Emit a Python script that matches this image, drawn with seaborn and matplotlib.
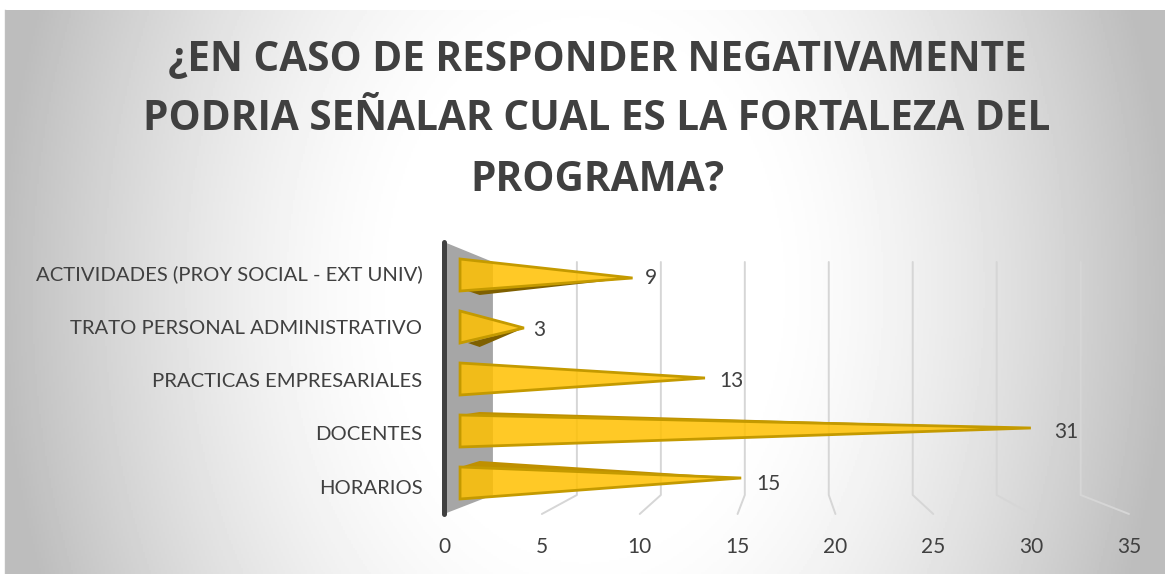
import numpy as np
import seaborn as sns
import matplotlib.pyplot as plt
from matplotlib.patches import Polygon

categories = ['ACTIVIDADES (PROY SOCIAL - EXT UNIV)', 'TRATO PERSONAL ADMINISTRATIVO',
              'PRACTICAS EMPRESARIALES', 'DOCENTES', 'HORARIOS']
values = [9, 3, 13, 31, 15]
x_ticks = [0, 5, 10, 15, 20, 25, 30, 35]
title = '¿EN CASO DE RESPONDER NEGATIVAMENTE\nPODRIA SEÑALAR CUAL ES LA FORTALEZA DEL\nPROGRAMA?'

W, H = 1170, 574
TEXT = '#404040'


def add_background(fig):
    # grey radial fill behind the whole chart, white margin outside it
    bg = fig.add_axes([5 / W, 0, 1160 / W, 564 / H], zorder=-5)
    xx, yy = np.meshgrid(np.linspace(5, 1165, 580), np.linspace(10, 574, 282))
    r = np.sqrt(((xx - 585) / 585) ** 2 + ((yy - 290) / 800) ** 2)
    shade = 1 - 0.26 * np.clip((r - 0.3) / 0.7, 0, 1) ** 1.5
    bg.imshow(shade, cmap='gray', vmin=0, vmax=1, aspect='auto')
    bg.set_xticks([])
    bg.set_yticks([])
    sns.despine(ax=bg, right=True, bottom=True)
    for side in ['top', 'left']:
        bg.spines[side].set_color('#bfbfbf')
        bg.spines[side].set_linewidth(1.0)


def draw_walls(ax):
    ax.add_patch(Polygon([(0, -0.72), (2.5, -0.32), (2.5, 4.34), (0, 4.72)],
                         facecolor='#a6a6a6', edgecolor='none', zorder=1))
    for t in x_ticks[1:]:
        back = 2.5 + 0.858 * t
        ax.plot([back, back, t], [-0.32, 4.34, 4.72], color='#d6d6d6', lw=1.4, zorder=1, clip_on=False)
    ax.plot([0, 0], [-0.72, 4.72], color=TEXT, lw=3.6, solid_capstyle='round', zorder=5, clip_on=False)


def draw_cones(ax, bars):
    # barplot sets the scales, each bar is then turned into a pointed 3d bar
    for i, bar in enumerate(bars):
        v = bar.get_width()
        bar.remove()
        tip = 1.31 + 0.925 * v
        mid = -0.06 + 1.04 * i
        tip_y = float(i)
        left = 0.82
        if i in (0, 1):
            ax.add_patch(Polygon([(left + 0.4, mid + 0.32), (left + 1.0, mid + 0.40), (tip, tip_y)],
                                 facecolor='#7f6000', edgecolor='none', zorder=3))
        if i in (3, 4):
            ax.add_patch(Polygon([(left, mid - 0.32), (left + 1.0, mid - 0.44 + 0.06 * (4 - i)), (tip, tip_y)],
                                 facecolor='#bf9000', edgecolor='none', zorder=3))
        ax.add_patch(Polygon([(left, mid - 0.32), (left, mid + 0.32), (tip, tip_y)],
                             facecolor='#ffc000', alpha=0.85, edgecolor='none', zorder=4))
        ax.add_patch(Polygon([(left, mid - 0.32), (left, mid + 0.32), (tip, tip_y)],
                             facecolor='none', edgecolor='#c49a00', lw=2.0, joinstyle='miter', zorder=4))
        ax.text(tip + (8 + 0.5 * v) / 19.57, 0.01 + 1.025 * i, f'{v:.0f}', ha='left', va='center',
                fontsize=15, color=TEXT, zorder=6)


fig = plt.figure(figsize=(W / 100, H / 100), dpi=100, facecolor='white')
sns.set_style('white')
plt.rcParams['font.family'] = ['Lato', 'DejaVu Sans']
add_background(fig)

ax = fig.add_axes([444 / W, (H - 514) / H, 685 / W, 272 / H], facecolor='none')
sns.barplot(x=values, y=categories, orient='h', ax=ax, color='#ffc000')
bars = list(ax.patches)
ax.set_xlim(0, 35)
ax.set_ylim(4.72, -0.72)
draw_walls(ax)
draw_cones(ax, bars)

sns.despine(ax=ax, left=True, bottom=True)
ax.set_xticks(x_ticks)
ax.set_xticklabels(x_ticks, fontsize=15, color=TEXT)
ax.set_yticks([-0.1 + 1.07 * i for i in range(len(categories))])
ax.set_yticklabels(categories, fontsize=14.6, color=TEXT)
ax.tick_params(axis='x', length=0, pad=16.5)
ax.tick_params(axis='y', length=0, pad=15.5)
ax.set_xlabel('')
ax.set_ylabel('')

fig.text(597 / W, (H - 120) / H, title, ha='center', va='center', fontsize=29.2,
         family=['Open Sans', 'DejaVu Sans'], fontweight='bold', color=TEXT, linespacing=1.62)

fig.savefig('out.png', dpi=100)
plt.close('all')
